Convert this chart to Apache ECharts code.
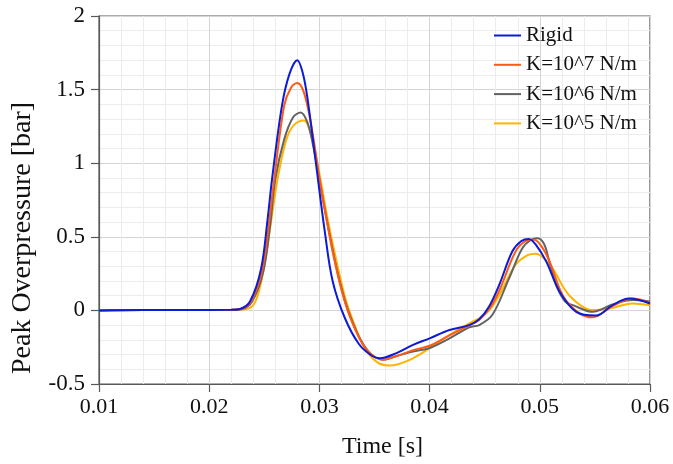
<!DOCTYPE html>
<html>
<head>
<meta charset="utf-8">
<script src="https://cdn.jsdelivr.net/npm/echarts@6/dist/echarts.min.js"></script>
<style>
html,body{margin:0;padding:0;background:#fff;}
#chart{width:673px;height:464px;}
</style>
</head>
<body>
<div id="chart"></div>
<script>
// Series names
const seriesNames = ['Rigid', 'K=10^7 N/m', 'K=10^6 N/m', 'K=10^5 N/m'];
const seriesColors = ['#0B1BD6', '#FF5A14', '#636363', '#FFB400'];

// Axis ticks
const xTicks = [0.01, 0.02, 0.03, 0.04, 0.05, 0.06];
const yTicks = [-0.5, 0, 0.5, 1, 1.5, 2];

// Rigid
const rigidT = [0.010,0.014,0.018,0.0220,0.0228,0.0237,0.0247,0.0253,0.0257,0.0266,0.0273,0.0280,0.0285,0.0289,0.0296,0.0305,0.0312,0.0323,0.0336,0.0348,0.0355,0.0370,0.0385,0.0400,0.0418,0.0436,0.0445,0.0454,0.0463,0.0475,0.0483,0.0490,0.0497,0.0506,0.0518,0.0533,0.0551,0.0566,0.0581,0.0600];
const rigidY = [0.000,0.003,0.003,0.004,0.010,0.060,0.280,0.620,0.890,1.390,1.610,1.700,1.610,1.450,1.050,0.530,0.200,-0.050,-0.230,-0.310,-0.325,-0.290,-0.234,-0.190,-0.133,-0.100,-0.060,0.027,0.170,0.400,0.470,0.485,0.440,0.330,0.126,-0.010,-0.035,0.036,0.080,0.047];

// K = 10^7 N/m
const k7T = [0.010,0.014,0.018,0.0220,0.0229,0.0238,0.0248,0.0254,0.0259,0.0268,0.0274,0.0280,0.0285,0.0290,0.0295,0.0300,0.0306,0.0312,0.0318,0.0323,0.0328,0.0335,0.0342,0.0350,0.0357,0.0370,0.0385,0.0400,0.0418,0.0436,0.0445,0.0455,0.0463,0.0478,0.0487,0.0495,0.0502,0.0509,0.0521,0.0536,0.0548,0.0566,0.0584,0.0600];
const k7Y = [0.000,0.003,0.003,0.004,0.010,0.060,0.270,0.580,0.890,1.390,1.510,1.545,1.500,1.360,1.150,0.900,0.640,0.400,0.200,0.060,-0.050,-0.170,-0.260,-0.315,-0.335,-0.310,-0.270,-0.240,-0.170,-0.100,-0.065,0.020,0.130,0.400,0.470,0.480,0.430,0.330,0.100,-0.020,-0.047,0.030,0.080,0.050];

// K = 10^6 N/m
const k6T = [0.010,0.014,0.018,0.0220,0.0230,0.0239,0.0249,0.0255,0.0260,0.0268,0.0276,0.0283,0.0289,0.0294,0.0299,0.0305,0.0311,0.0317,0.0323,0.0328,0.0336,0.0344,0.0351,0.0358,0.0370,0.0385,0.0400,0.0418,0.0436,0.0445,0.0457,0.0472,0.0484,0.0492,0.0498,0.0504,0.0508,0.0515,0.0523,0.0530,0.0548,0.0566,0.0584,0.0600];
const k6Y = [0.000,0.003,0.003,0.004,0.010,0.060,0.260,0.560,0.890,1.160,1.310,1.345,1.280,1.130,0.930,0.680,0.450,0.240,0.070,-0.040,-0.180,-0.275,-0.320,-0.335,-0.310,-0.280,-0.255,-0.190,-0.115,-0.100,-0.030,0.216,0.420,0.480,0.490,0.450,0.350,0.170,0.060,0.036,-0.010,0.040,0.070,0.060];

// K = 10^5 N/m
const k5T = [0.010,0.014,0.018,0.0220,0.0236,0.0244,0.0252,0.0262,0.0270,0.0277,0.0286,0.0291,0.0296,0.0301,0.0307,0.0313,0.0319,0.0324,0.0329,0.0340,0.0352,0.0364,0.0382,0.0400,0.0418,0.0436,0.0445,0.0454,0.0463,0.0478,0.0489,0.0496,0.0503,0.0512,0.0527,0.0548,0.0564,0.0584,0.0600];
const k5Y = [0.000,0.003,0.003,0.003,0.014,0.100,0.400,0.890,1.160,1.260,1.290,1.230,1.080,0.890,0.640,0.420,0.220,0.070,-0.040,-0.240,-0.350,-0.375,-0.336,-0.257,-0.167,-0.088,-0.054,0.000,0.100,0.310,0.375,0.385,0.360,0.280,0.100,0.002,0.014,0.047,0.035];

const seriesT = [rigidT, k7T, k6T, k5T];
const seriesY = [rigidY, k7Y, k6Y, k5Y];

const font = '"Liberation Serif", "Times New Roman", serif';
const axisColor = '#595959';

const chart = echarts.init(document.getElementById('chart'), null, {renderer: 'canvas'});

const series = seriesNames.map((name, i) => ({
  name: name,
  type: 'line',
  data: seriesT[i].map((t, j) => [t, seriesY[i][j]]),
  smooth: 0.35,
  symbol: 'none',
  showSymbol: false,
  lineStyle: {color: seriesColors[i], width: 2},
  itemStyle: {color: seriesColors[i]},
  z: 10 - i
}));

chart.setOption({
  animation: false,
  backgroundColor: '#ffffff',
  grid: {
    left: 99, right: 23, top: 16, bottom: 79,
    show: true, borderColor: axisColor, borderWidth: 1.2, backgroundColor: 'transparent'
  },
  legend: {
    data: seriesNames,
    orient: 'vertical',
    left: 489,
    top: 20,
    icon: 'rect',
    itemWidth: 27,
    itemHeight: 2,
    itemGap: 8.3,
    textStyle: {fontFamily: font, fontSize: 21, color: '#111', lineHeight: 20},
    backgroundColor: 'transparent'
  },
  xAxis: {
    type: 'value',
    min: xTicks[0],
    max: xTicks[xTicks.length - 1],
    interval: 0.01,
    name: 'Time [s]',
    nameLocation: 'middle',
    nameGap: 51,
    nameTextStyle: {fontFamily: font, fontSize: 24, color: '#111', padding: [0, 0, 0, 16]},
    axisLine: {show: true, onZero: false, lineStyle: {color: axisColor, width: 1.2}},
    axisTick: {show: true, inside: false, length: 8, lineStyle: {color: axisColor, width: 1.2}},
    axisLabel: {fontFamily: font, fontSize: 22, color: '#111', margin: 12,
      formatter: v => v.toFixed(2)},
    splitLine: {show: true, lineStyle: {color: '#d4d4d4', width: 1}},
    minorTick: {show: false, splitNumber: 5},
    minorSplitLine: {show: true, lineStyle: {color: '#ececec', width: 1}}
  },
  yAxis: {
    type: 'value',
    min: yTicks[0],
    max: yTicks[yTicks.length - 1],
    interval: 0.5,
    name: 'Peak Overpressure [bar]',
    nameLocation: 'middle',
    nameGap: 62,
    nameTextStyle: {fontFamily: font, fontSize: 28, color: '#111', padding: [0, 76, 0, 0]},
    axisLine: {show: true, lineStyle: {color: axisColor, width: 1.2}},
    axisTick: {show: true, inside: false, length: 8, lineStyle: {color: axisColor, width: 1.2}},
    axisLabel: {fontFamily: font, fontSize: 23, color: '#111', margin: 14,
      formatter: v => String(Math.round(v * 10) / 10)},
    splitLine: {show: true, lineStyle: {color: '#d4d4d4', width: 1}},
    minorTick: {show: false, splitNumber: 5},
    minorSplitLine: {show: true, lineStyle: {color: '#ececec', width: 1}}
  },
  series: series
});
</script>
</body>
</html>
